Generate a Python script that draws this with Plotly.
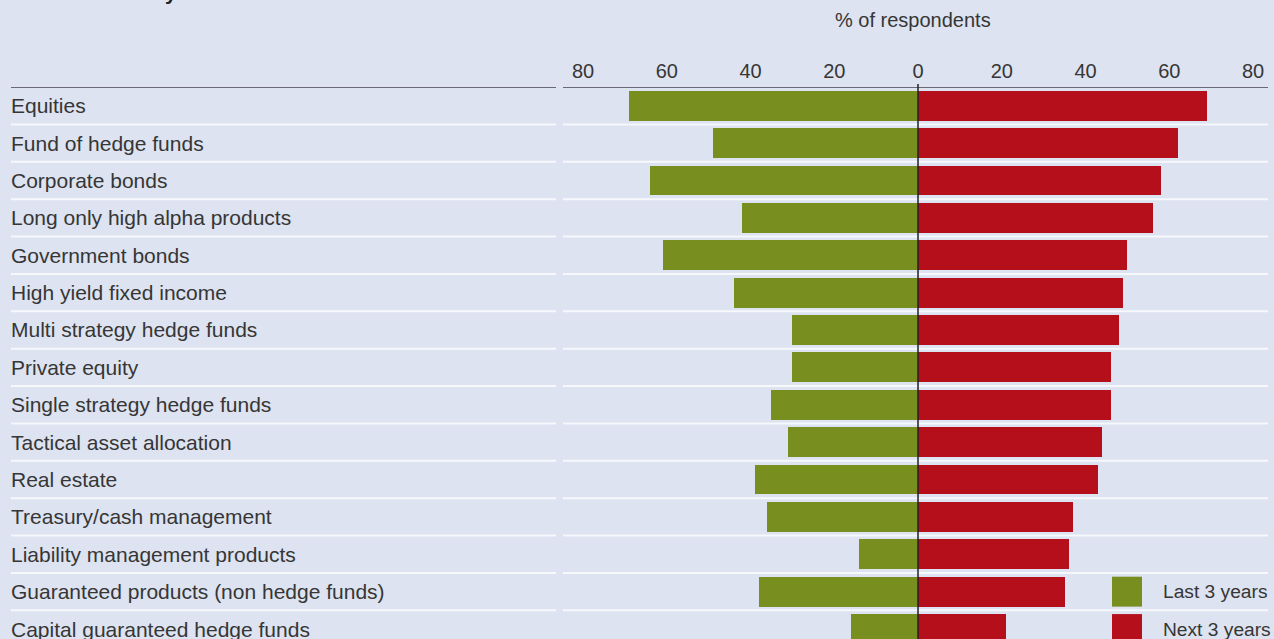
import plotly.graph_objects as go

# Product categories, top to bottom
categories = [
    "Equities",
    "Fund of hedge funds",
    "Corporate bonds",
    "Long only high alpha products",
    "Government bonds",
    "High yield fixed income",
    "Multi strategy hedge funds",
    "Private equity",
    "Single strategy hedge funds",
    "Tactical asset allocation",
    "Real estate",
    "Treasury/cash management",
    "Liability management products",
    "Guaranteed products (non hedge funds)",
    "Capital guaranteed hedge funds",
]

# % of respondents
last_3_years = [69, 49, 64, 42, 61, 44, 30, 30, 35, 31, 39, 36, 14, 38, 16]
next_3_years = [69, 62, 58, 56, 50, 49, 48, 46, 46, 44, 43, 37, 36, 35, 21]

tick_values = [-80, -60, -40, -20, 0, 20, 40, 60, 80]
tick_labels = ["80", "60", "40", "20", "0", "20", "40", "60", "80"]

series_names = ["Last 3 years", "Next 3 years"]
GREEN = "#788e1e"
RED = "#b50f1c"
BG = "#dde3f0"
TEXT = "#363636"
FONT = "Liberation Sans, Arial, sans-serif"

W, H = 1274, 639
ML, MR, MT, MB = 563, 6, 87, 0
PW = W - ML - MR
PH = H - MT - MB

rows = list(range(len(categories)))

fig = go.Figure()
fig.add_trace(go.Bar(
    y=rows, x=[-v for v in last_3_years], orientation="h",
    marker=dict(color=GREEN, line=dict(width=0)), width=0.8,
    name=series_names[0], showlegend=False,
))
fig.add_trace(go.Bar(
    y=rows, x=next_3_years, orientation="h",
    marker=dict(color=RED, line=dict(width=0)), width=0.8,
    name=series_names[1], showlegend=False,
))


def px_to_paper_x(px):
    return (px - ML) / PW


def px_to_paper_y(py):
    return 1 - (py - MT) / PH


shapes = []
annotations = []

# White row separators in the label column and in the plot area
for i in range(len(categories)):
    yb = i + 0.5
    for x0, x1 in [(px_to_paper_x(11), px_to_paper_x(556)), (0, 1)]:
        shapes.append(dict(type="line", xref="paper", yref="y",
                           x0=x0, x1=x1, y0=yb, y1=yb,
                           line=dict(color="#f6f8fc", width=2), layer="below"))

# Dark rule above the first row
for x0, x1 in [(px_to_paper_x(11), px_to_paper_x(556)), (0, 1)]:
    shapes.append(dict(type="line", xref="paper", yref="y",
                       x0=x0, x1=x1, y0=-0.5, y1=-0.5,
                       line=dict(color="#6a6a76", width=2), layer="above"))

# Zero line across all rows
shapes.append(dict(type="line", xref="x", yref="paper", x0=0, x1=0,
                   y0=0, y1=px_to_paper_y(84),
                   line=dict(color="#222222", width=1.5), layer="above"))

# Category labels
for i, name in enumerate(categories):
    annotations.append(dict(text=name, xref="paper", yref="y",
                            x=px_to_paper_x(9), y=i, xanchor="left",
                            yanchor="middle", showarrow=False,
                            font=dict(family=FONT, size=21, color=TEXT)))

# Legend swatches and labels
legend_rows = [13, 14]
for row, name, color in zip(legend_rows, series_names, [GREEN, RED]):
    shapes.append(dict(type="rect", xref="paper", yref="y",
                       x0=px_to_paper_x(1112), x1=px_to_paper_x(1142),
                       y0=row - 0.4, y1=row + 0.4,
                       fillcolor=color, line=dict(width=0), layer="above"))
    annotations.append(dict(text=name, xref="paper", yref="y",
                            x=px_to_paper_x(1161), y=row, xanchor="left",
                            yanchor="middle", showarrow=False,
                            font=dict(family=FONT, size=19.2, color=TEXT)))

# Axis title
annotations.append(dict(text="% of respondents", xref="paper", yref="paper",
                        x=px_to_paper_x(913), y=px_to_paper_y(20),
                        xanchor="center", yanchor="middle", showarrow=False,
                        font=dict(family=FONT, size=20, color=TEXT)))

# Heading running off the top edge
annotations.append(dict(text="<b>over the next 3 years</b>", xref="paper", yref="paper",
                        x=px_to_paper_x(9), y=px_to_paper_y(-8),
                        xanchor="left", yanchor="middle", showarrow=False,
                        font=dict(family=FONT, size=21, color="#222222")))

fig.update_layout(
    width=W, height=H,
    margin=dict(l=ML, r=MR, t=MT, b=MB, pad=0),
    paper_bgcolor=BG, plot_bgcolor=BG,
    barmode="overlay", bargap=0,
    shapes=shapes, annotations=annotations,
    showlegend=False,
    font=dict(family=FONT, color=TEXT),
)

x_per_px = 80 / (1253 - 918)
fig.update_xaxes(
    range=[-(918 - ML) * x_per_px, (W - MR - 918) * x_per_px],
    side="top", tickvals=tick_values, ticktext=tick_labels,
    tickfont=dict(family=FONT, size=20, color=TEXT),
    ticklabelstandoff=4,
    showgrid=False, zeroline=False, showline=False, ticks="",
    fixedrange=True,
)
fig.update_yaxes(
    range=[(H - 106) / 37.36, -0.5],
    showticklabels=False, showgrid=False, zeroline=False, showline=False,
    ticks="", fixedrange=True,
)

fig.write_html("out.html", config={"displayModeBar": False})
